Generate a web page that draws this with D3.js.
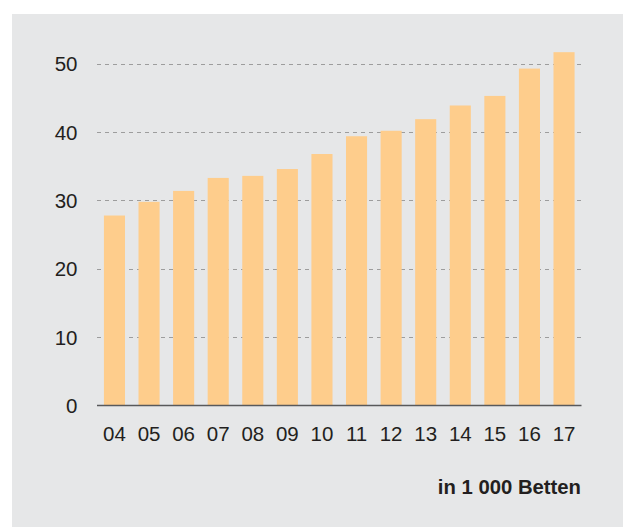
<!DOCTYPE html>
<html>
<head>
<meta charset="utf-8">
<script src="https://cdn.jsdelivr.net/npm/d3@7"></script>
<style>
    html, body { margin: 0; padding: 0; background: #ffffff; }
    svg { display: block; }
    .tick-label { font-family: "Liberation Sans", Arial, sans-serif; font-size: 20.5px; fill: #231f20; }
    .unit-label { font-family: "Liberation Sans", Arial, sans-serif; font-size: 20.3px; font-weight: bold; fill: #231f20; }
</style>
</head>
<body>
<svg id="chart" width="623" height="527"></svg>
<script>
'use strict';

// data
const years = ["04", "05", "06", "07", "08", "09", "10", "11", "12", "13", "14", "15", "16", "17"];
const beds = [27.8, 29.8, 31.4, 33.3, 33.6, 34.6, 36.8, 39.4, 40.2, 41.9, 43.9, 45.3, 49.3, 51.7];
const yTicks = [0, 10, 20, 30, 40, 50];
const unitText = "in 1 000 Betten";

const WIDTH = 623, HEIGHT = 527;
const PLOT = { left: 97, right: 581.5, top: 63.8, bottom: 405.5 };

const svg = d3.select("#chart");

// gray panel
svg.append("rect")
    .attr("x", 12)
    .attr("y", 14)
    .attr("width", WIDTH - 12)
    .attr("height", HEIGHT - 14)
    .attr("fill", "#e6e7e8");

const x = d3.scaleBand()
    .domain(years)
    .range([PLOT.left, PLOT.right])
    .paddingInner(0.39)
    .paddingOuter(0.2);

const y = d3.scaleLinear()
    .domain([0, 50])
    .range([PLOT.bottom, PLOT.top]);

// dashed grid lines
svg.append("g")
    .selectAll("line")
    .data(yTicks.filter(d => d > 0))
    .join("line")
    .attr("x1", PLOT.left)
    .attr("x2", PLOT.right)
    .attr("y1", d => Math.round(y(d)) + 0.5)
    .attr("y2", d => Math.round(y(d)) + 0.5)
    .attr("stroke", "#9d9d9d")
    .attr("stroke-width", 1)
    .attr("stroke-dasharray", "4,4");

// bars
svg.append("g")
    .selectAll("rect")
    .data(beds)
    .join("rect")
    .attr("x", (d, i) => x(years[i]))
    .attr("y", d => y(d))
    .attr("width", x.bandwidth())
    .attr("height", d => y(0) - y(d))
    .attr("fill", "#fecd8c");

// baseline
svg.append("line")
    .attr("x1", PLOT.left)
    .attr("x2", PLOT.right)
    .attr("y1", y(0))
    .attr("y2", y(0))
    .attr("stroke", "#58595b")
    .attr("stroke-width", 1.5);

// y labels
svg.append("g")
    .selectAll("text")
    .data(yTicks)
    .join("text")
    .classed("tick-label", true)
    .attr("x", 77.5)
    .attr("y", d => y(d))
    .attr("dy", "0.36em")
    .attr("text-anchor", "end")
    .text(d => d);

// x labels
svg.append("g")
    .selectAll("text")
    .data(years)
    .join("text")
    .classed("tick-label", true)
    .attr("x", d => x(d) + x.bandwidth() / 2)
    .attr("y", 440.5)
    .attr("text-anchor", "middle")
    .text(d => d);

// unit
svg.append("text")
    .classed("unit-label", true)
    .attr("x", 581)
    .attr("y", 493.5)
    .attr("text-anchor", "end")
    .text(unitText);
</script>
</body>
</html>
